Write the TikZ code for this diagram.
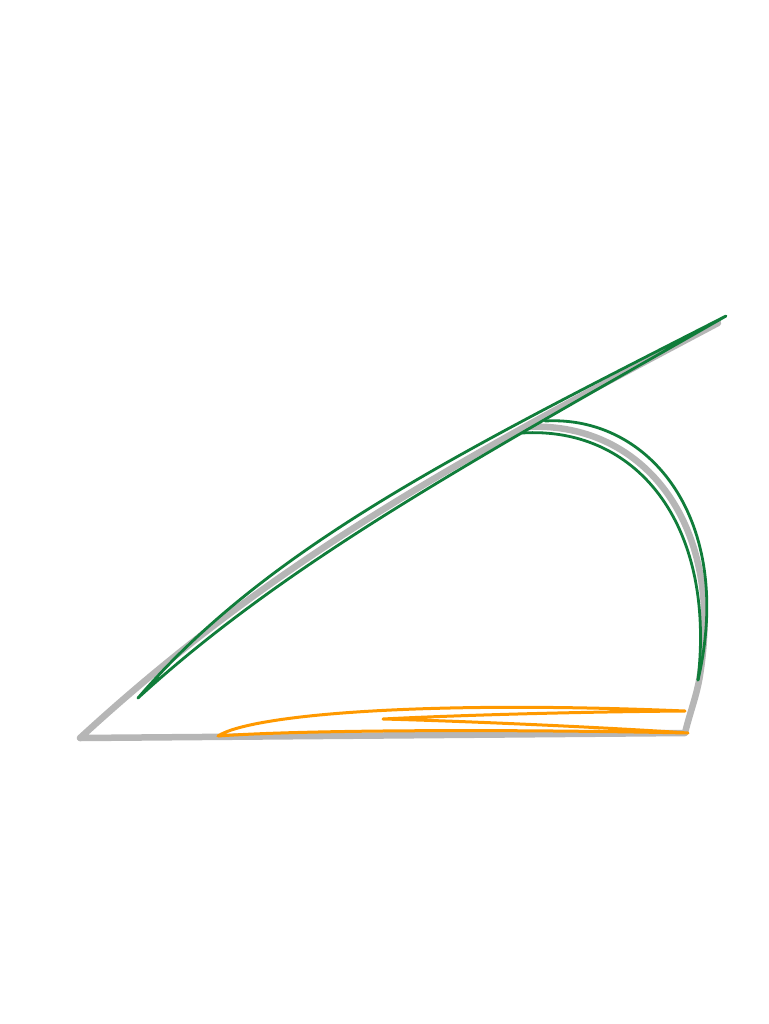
\documentclass[tikz,border=0pt]{standalone}
\definecolor{graycol}{RGB}{182,182,182}
\definecolor{greencol}{RGB}{16,125,58}
\definecolor{orangecol}{RGB}{255,153,0}
\begin{document}
\begin{tikzpicture}[x=1pt,y=-1pt,
  grayline/.style={draw=graycol,line width=6.5pt,line join=round,line cap=round},
  greenline/.style={draw=greencol,line width=2.8pt,line join=round,line cap=round},
  orangeline/.style={draw=orangecol,line width=3pt,line join=round,line cap=round}]
\useasboundingbox (0,0) rectangle (768,1024);
% gray reference path
\draw[grayline] (718,323) .. controls (468,455.5) and (280,554) .. (80,738)
  -- (685,733) .. controls (690,712) and (697,695) .. (700,675)
  .. controls (725,520) and (640,420) .. (525,427);
% green band along the diagonal
\draw[greenline] (138,698) .. controls (270,545) and (464.5,449.5) .. (726,316)
  .. controls (471,461.5) and (287,562) .. (138,698);
% green band along the arc
\draw[greenline] (522,433) .. controls (635,426) and (716,522) .. (698,680);
\draw[greenline] (698,680) .. controls (735,520) and (650,415) .. (545,421);
% orange loop
\draw[orangeline] (218,736) .. controls (250,715) and (420,700) .. (685,711)
  .. controls (560,712) and (440,716) .. (383,719)
  .. controls (460,721) and (600,727) .. (688,733)
  .. controls (500,729) and (300,730) .. (218,736);
\end{tikzpicture}
\end{document}
